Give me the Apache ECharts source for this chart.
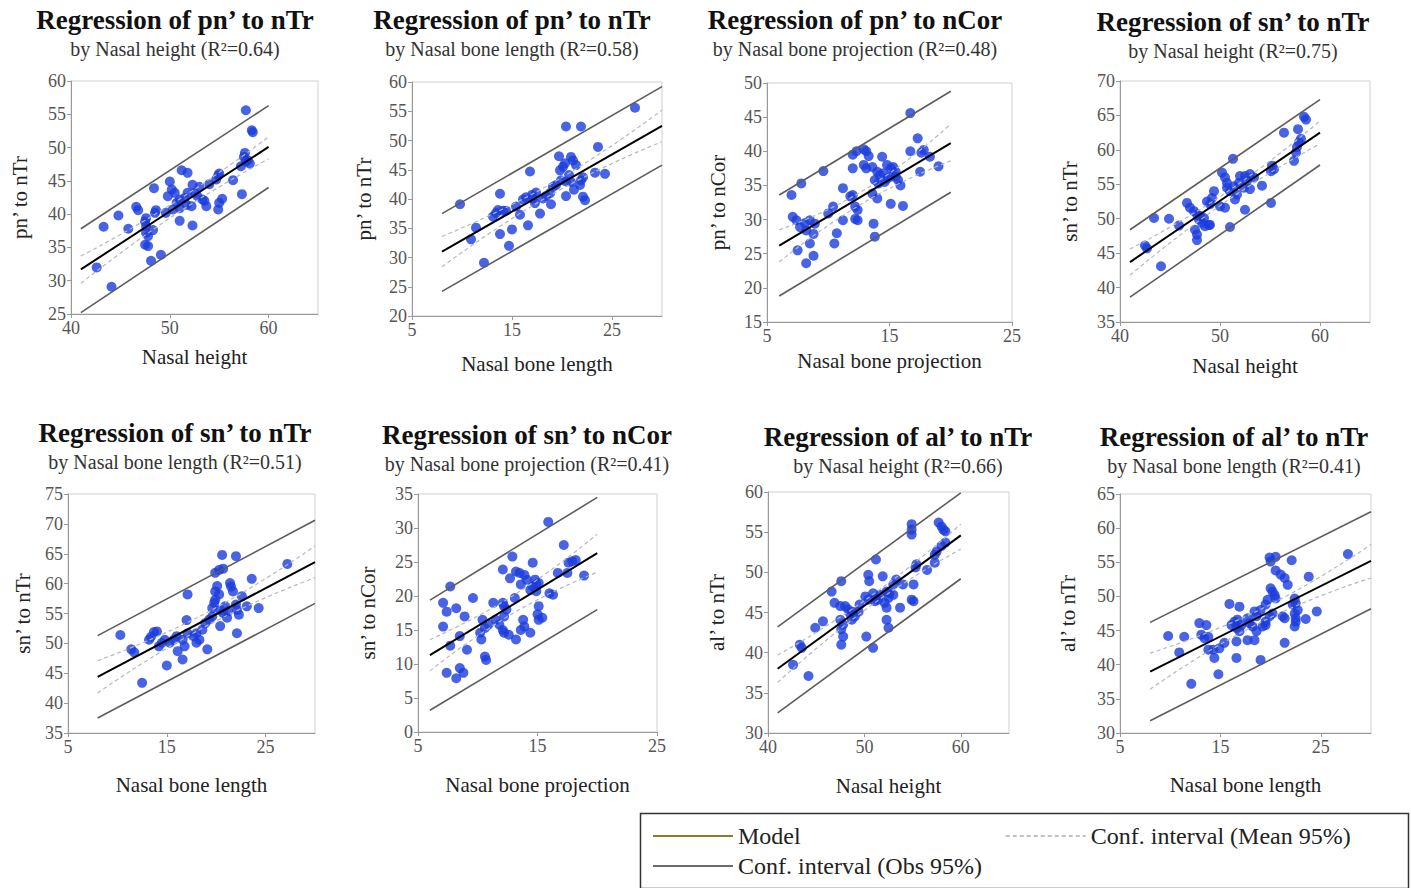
<!DOCTYPE html>
<html><head><meta charset="utf-8">
<script src="https://cdn.jsdelivr.net/npm/echarts@6/dist/echarts.min.js"></script>
<style>html,body{margin:0;padding:0;background:#fff}#c{width:1411px;height:888px}</style>
</head><body><div id="c"></div>
<script>
// ---------- text ----------
const titles = ["Regression of pn\u2019 to nTr","Regression of pn\u2019 to nTr","Regression of pn\u2019 to nCor","Regression of sn\u2019 to nTr",
                "Regression of sn\u2019 to nTr","Regression of sn\u2019 to nCor","Regression of al\u2019 to nTr","Regression of al\u2019 to nTr"];
const subtitles = ["by Nasal height (R\u00b2=0.64)","by Nasal bone length (R\u00b2=0.58)","by Nasal bone projection (R\u00b2=0.48)","by Nasal height (R\u00b2=0.75)",
                   "by Nasal bone length (R\u00b2=0.51)","by Nasal bone projection (R\u00b2=0.41)","by Nasal height (R\u00b2=0.66)","by Nasal bone length (R\u00b2=0.41)"];
const xNames = ["Nasal height","Nasal bone length","Nasal bone projection","Nasal height","Nasal bone length","Nasal bone projection","Nasal height","Nasal bone length"];
const yNames = ["pn\u2019 to nTr","pn\u2019 to nTr","pn\u2019 to nCor","sn\u2019 to nTr","sn\u2019 to nTr","sn\u2019 to nCor","al\u2019 to nTr","al\u2019 to nTr"];
const legendNames = ["Model","Conf. interval (Obs 95%)","Conf. interval (Mean 95%)"];

// ---------- axes ----------
const xMin = [40,5,5,40,5,5,40,5];
const xMax = [65,30,25,65,30,25,65,30];
const xTicks = [[40,50,60],[5,15,25],[5,15,25],[40,50,60],[5,15,25],[5,15,25],[40,50,60],[5,15,25]];
const yMin = [25,20,15,35,35,0,30,30];
const yMax = [60,60,50,70,75,35,60,65];
const yTicks = [[25,30,35,40,45,50,55,60],[20,25,30,35,40,45,50,55,60],[15,20,25,30,35,40,45,50],[35,40,45,50,55,60,65,70],
                [35,40,45,50,55,60,65,70,75],[0,5,10,15,20,25,30,35],[30,35,40,45,50,55,60],[30,35,40,45,50,55,60,65]];

// ---------- data: observations ----------
const p1Points = [[57.7,55.6],[58.3,52.6],[58.4,52.3],[57.6,49.2],[57.5,48.6],[57.7,47.9],[57.9,48.1],[57.2,47.2],[58.1,47.6],[56.4,45.1],[57.3,43.0],
[54.9,45.8],[55.0,46.1],[54.7,45.2],[55.3,42.3],[55.0,41.7],[54.9,40.7],[54.0,44.5],
[51.2,46.6],[51.8,46.2],[52.3,44.4],[53.0,44.1],[52.5,43.2],[52.8,42.7],[53.3,42.2],[51.8,43.2],[51.5,42.4],[51.0,42.2],[50.7,41.7],[50.5,43.2],[50.2,43.7],[50.0,44.9],[49.8,42.7],[49.6,40.2],[50.3,40.7],[51.0,40.9],[51.0,39.0],[52.3,38.3],[53.7,41.2],[51.7,41.4],[52.2,41.2],[53.5,42.0],
[48.4,43.9],[48.6,40.6],[48.5,40.2],[46.6,41.1],[46.8,40.6],[47.6,39.4],[47.5,38.9],[47.6,38.2],[47.6,37.2],[47.8,36.7],[47.5,35.4],[47.8,35.2],[48.3,37.6],[48.1,33.0],[49.1,33.9],[44.8,39.8],[43.3,38.1],[45.8,37.8],[42.6,32.0],[44.1,29.1]];
const p2Points = [[9.8,39.1],[10.9,33.1],[11.4,35.1],[12.2,29.1],[13.1,37.0],[13.4,37.6],[13.6,38.1],[14.1,38.0],[13.8,40.9],[13.8,34.0],[14.7,32.0],[15.0,34.8],[14.4,38.0],[15.4,38.7],[15.8,37.3],[16.1,39.9],[16.4,40.3],[16.6,35.5],[16.8,44.7],[17.0,40.7],[17.1,40.1],[17.4,41.1],[17.3,39.3],[17.8,37.5],[18.1,40.1],[18.4,40.5],[18.8,41.0],[18.9,39.1],[19.1,42.1],[19.4,42.4],[19.7,47.3],[19.8,44.9],[20.1,45.5],[20.3,46.1],[19.9,43.2],[20.4,43.0],[20.4,52.4],[20.4,40.5],[20.9,47.2],[21.1,46.6],[21.4,45.8],[21.2,41.6],[21.8,42.4],[21.9,43.2],[22.1,43.7],[21.9,52.4],[22.1,40.4],[22.3,39.8],[23.3,44.5],[23.6,48.9],[24.3,44.3],[20.7,44.1],[20.9,42.9],[27.3,55.6]];
const p3Points = [[16.7,45.6],[17.3,41.9],[16.7,40.0],[17.6,39.8],[17.8,40.2],[18.3,39.2],[19.0,37.8],[17.5,37.0],[14.4,39.2],[14.8,38.0],[15.1,37.5],[15.3,37.7],[15.5,37.0],[14.0,37.0],[14.2,36.5],[14.5,36.8],[14.8,36.0],[15.1,36.3],[15.5,36.3],[15.7,35.8],[13.8,35.8],[14.1,35.3],[14.6,35.5],[13.6,37.7],[15.9,35.0],[15.1,32.3],[16.1,32.0],[14.0,33.1],[13.6,33.8],[12.0,39.5],[12.3,40.0],[12.9,40.3],[13.1,40.0],[13.3,39.3],[12.0,37.5],[12.9,38.0],[13.1,37.5],[11.2,34.6],[11.8,33.4],[12.0,33.6],[12.2,31.9],[12.4,31.4],[12.2,30.1],[12.4,29.9],[11.2,29.9],[13.7,29.4],[13.8,27.5],[10.4,31.9],[10.0,30.9],[10.7,28.0],[10.5,26.5],[9.6,37.1],[7.8,35.3],[7.0,33.6],[7.1,30.4],[7.4,29.9],[7.7,28.9],[8.1,29.5],[8.5,29.9],[8.9,29.4],[8.2,28.4],[8.8,27.9],[7.5,25.5],[8.5,26.5],[8.8,24.7],[8.2,23.6]];
const p4Points = [[58.4,64.8],[58.6,64.4],[56.4,62.5],[57.8,63.0],[58.1,61.6],[57.9,61.1],[57.7,60.4],[57.6,59.6],[57.4,58.4],[55.2,57.7],[55.1,56.9],[55.4,57.2],[55.1,52.3],[51.3,58.7],[50.2,56.7],[50.5,56.0],[50.7,55.2],[52.0,56.2],[52.5,56.2],[53.0,56.5],[53.4,56.0],[54.2,54.8],[51.9,55.2],[52.4,54.5],[53.0,54.3],[52.7,55.5],[50.7,54.5],[51.0,54.0],[51.4,54.7],[49.4,54.0],[49.2,53.0],[51.7,53.5],[51.5,52.8],[50.0,51.8],[50.5,51.6],[52.5,51.3],[48.7,52.5],[49.0,52.1],[46.7,52.3],[47.0,51.6],[47.4,51.1],[47.7,50.6],[48.0,50.4],[47.9,49.9],[48.2,49.4],[48.5,48.9],[48.9,49.1],[48.4,50.1],[47.5,48.4],[47.7,47.7],[47.7,46.9],[49.0,49.1],[51.0,48.8],[45.9,49.0],[44.9,50.0],[43.4,50.1],[42.5,46.1],[42.7,45.7],[44.1,43.1]];
const p5Points = [[10.3,51.4],[11.4,49.0],[11.7,48.5],[12.5,43.4],[13.4,51.1],[13.7,51.9],[14.0,52.0],[13.2,50.6],[14.2,49.5],[14.5,50.1],[14.8,50.6],[15.0,46.3],[15.3,50.1],[15.7,50.6],[16.0,51.2],[16.1,48.7],[16.6,47.3],[17.0,53.9],[17.1,51.7],[17.1,58.2],[16.6,50.6],[16.8,49.5],[17.7,51.2],[18.0,51.7],[18.3,50.6],[18.6,52.3],[18.0,50.1],[19.1,49.0],[18.9,53.4],[19.3,54.0],[19.6,54.5],[19.6,55.9],[19.8,56.8],[19.9,57.3],[19.9,58.7],[20.3,58.2],[20.1,59.6],[19.9,61.8],[20.3,62.3],[20.6,64.8],[20.7,62.5],[20.4,55.6],[20.7,55.1],[20.9,56.2],[21.2,55.4],[21.1,54.3],[20.4,52.9],[21.4,60.1],[21.5,59.5],[21.7,58.7],[22.0,56.5],[22.1,55.6],[22.3,54.8],[22.0,64.6],[22.1,51.7],[22.6,57.9],[23.1,56.2],[23.6,60.8],[24.3,55.9],[27.2,63.3]];
const p6Points = [[15.9,30.9],[17.2,27.5],[17.6,24.9],[17.9,25.1],[18.2,25.3],[17.5,23.4],[18.9,23.0],[16.7,23.4],[16.0,20.4],[16.3,20.2],[14.6,24.9],[14.8,22.4],[14.9,21.7],[15.1,21.9],[14.4,20.9],[14.6,21.4],[14.9,20.7],[13.9,23.1],[14.1,22.4],[13.5,23.4],[13.2,23.6],[13.6,21.7],[12.9,25.8],[12.7,22.6],[13.1,19.7],[12.1,23.9],[12.1,19.0],[12.2,18.5],[12.4,18.0],[12.2,17.0],[11.3,19.0],[11.5,16.5],[11.8,15.8],[12.1,15.0],[12.2,14.6],[12.6,14.3],[13.2,13.6],[13.8,16.5],[13.9,15.5],[13.6,15.0],[14.4,14.6],[15.0,17.3],[15.1,16.5],[15.4,16.8],[15.1,18.5],[10.6,15.3],[10.9,15.8],[10.4,16.5],[10.2,14.6],[10.3,13.6],[9.6,19.7],[10.6,11.1],[10.7,10.6],[8.9,17.0],[9.1,12.1],[8.5,14.1],[7.7,21.4],[8.2,18.2],[7.4,17.7],[7.1,19.0],[7.1,15.5],[7.7,12.7],[7.4,8.7],[8.2,7.9],[8.5,9.4],[8.8,8.7]];
const p7Points = [[57.7,56.2],[58.0,55.7],[58.2,55.3],[58.4,55.1],[54.9,56.0],[54.9,55.3],[54.9,54.7],[58.4,53.7],[58.0,53.3],[57.5,52.6],[57.3,52.2],[57.3,51.2],[56.5,50.3],[55.4,51.0],[55.3,50.6],[51.2,51.6],[50.4,49.7],[50.5,48.9],[51.9,49.5],[53.3,49.1],[53.0,48.5],[54.0,48.5],[55.1,48.5],[54.9,46.6],[55.1,46.4],[53.7,45.6],[52.3,47.6],[52.6,47.4],[53.0,47.2],[52.5,46.8],[52.3,45.6],[52.1,46.2],[52.3,44.1],[52.5,43.1],[50.9,47.4],[51.2,46.8],[51.6,47.2],[51.1,46.4],[51.4,46.6],[50.1,47.0],[50.4,46.6],[50.2,42.0],[50.9,40.6],[49.5,46.0],[49.4,45.1],[49.0,44.5],[48.7,44.1],[48.3,45.4],[48.5,44.9],[48.8,45.1],[47.6,48.9],[46.6,47.6],[46.9,46.2],[47.5,45.8],[48.0,45.8],[47.5,44.1],[47.8,43.5],[47.6,42.9],[47.8,42.0],[47.6,41.0],[45.7,43.9],[44.9,43.1],[43.3,41.0],[43.5,40.6],[42.6,38.5],[44.2,37.1]];
const p8Points = [[27.7,56.2],[19.9,55.7],[20.5,55.8],[20.0,55.1],[22.1,55.3],[20.5,53.8],[21.0,53.2],[21.4,52.7],[21.7,51.7],[23.8,52.9],[20.0,51.2],[20.2,50.7],[20.4,50.2],[20.5,49.7],[19.7,49.5],[19.5,48.8],[22.4,49.7],[22.2,48.8],[22.5,49.0],[22.7,48.0],[22.4,47.5],[22.5,46.8],[21.2,47.1],[21.4,46.8],[22.4,45.6],[22.5,46.3],[23.5,46.7],[24.6,47.8],[21.4,43.2],[20.2,47.5],[19.9,47.1],[19.5,46.3],[19.2,45.6],[19.5,45.8],[19.0,48.0],[18.4,47.8],[18.6,47.1],[17.7,46.8],[17.9,46.1],[18.2,45.6],[18.6,44.9],[17.7,43.6],[18.4,43.6],[19.0,40.7],[15.9,48.9],[16.9,48.5],[16.1,45.8],[16.4,46.3],[16.7,46.6],[17.1,45.8],[16.6,45.4],[16.9,44.9],[16.6,43.4],[15.4,43.2],[14.9,42.4],[16.6,41.0],[14.3,42.2],[14.4,41.0],[14.8,38.6],[12.9,46.1],[13.6,45.8],[13.1,44.4],[13.4,43.9],[13.8,44.1],[13.8,42.2],[11.4,44.1],[9.8,44.2],[10.9,41.8],[12.1,37.2]];

// ---------- data: model line and confidence bands ----------
const p1Model=[[41,31.7],[60,50.1]], p1ObsHi=[[41,37.8],[60,56.3]], p1ObsLo=[[41,25.2],[60,44.0]], p1MeanHi=[[41,33.7],[50.5,41.8],[60,51.6]], p1MeanLo=[[41,29.6],[50.5,39.9],[60,48.3]];
const p2Model=[[8,31.0],[30,52.5]], p2ObsHi=[[8,37.5],[30,59.2]], p2ObsLo=[[8,24.2],[30,45.8]], p2MeanHi=[[8,33.6],[19,42.7],[30,55.2]], p2MeanLo=[[8,28.4],[19,40.8],[30,49.8]];
const p3Model=[[6,26.2],[20,41.2]], p3ObsHi=[[6,33.6],[20,48.8]], p3ObsLo=[[6,18.8],[20,34.0]], p3MeanHi=[[6,28.5],[13,34.4],[20,44.0]], p3MeanLo=[[6,23.8],[13,32.6],[20,38.6]];
const p4Model=[[41,43.7],[60,62.5]], p4ObsHi=[[41,48.4],[60,67.3]], p4ObsLo=[[41,38.6],[60,57.8]], p4MeanHi=[[41,45.6],[50.5,53.7],[60,64.2]], p4MeanLo=[[41,41.8],[50.5,52.4],[60,60.9]];
const p5Model=[[8,44.4],[30,63.6]], p5ObsHi=[[8,51.3],[30,70.6]], p5ObsLo=[[8,37.5],[30,56.7]], p5MeanHi=[[8,47.1],[19,55.1],[30,66.3]], p5MeanLo=[[8,41.7],[19,52.9],[30,61.0]];
const p6Model=[[6,11.3],[20,26.3]], p6ObsHi=[[6,19.4],[20,34.5]], p6ObsLo=[[6,3.2],[20,18.0]], p6MeanHi=[[6,13.6],[13,20.1],[20,29.1]], p6MeanLo=[[6,9.0],[13,17.5],[20,23.5]];
const p7Model=[[41,38.0],[60,54.6]], p7ObsHi=[[41,43.2],[60,59.9]], p7ObsLo=[[41,32.5],[60,49.2]], p7MeanHi=[[41,39.7],[50.5,46.9],[60,56.0]], p7MeanLo=[[41,36.3],[50.5,45.7],[60,52.9]];
const p8Model=[[8,39.0],[30,55.2]], p8ObsHi=[[8,46.2],[30,62.4]], p8ObsLo=[[8,31.8],[30,48.2]], p8MeanHi=[[8,41.7],[19,48.1],[30,57.6]], p8MeanLo=[[8,36.4],[19,46.2],[30,52.7]];

// ---------- layout (pixels) ----------
const grids = [
  {left:71, top:81, width:247, height:233},
  {left:412, top:82, width:250, height:234},
  {left:767, top:83, width:245, height:239},
  {left:1120, top:81, width:250, height:241},
  {left:68, top:494, width:247, height:239},
  {left:418, top:494, width:239, height:238},
  {left:768, top:492, width:241, height:241},
  {left:1120, top:494, width:251, height:239}
];
const titleCx = [175,512,855,1233,175,527,898,1234];
const titleTop = [5,5,5,7,418,420,422,422];
const xNameGap = [32,37,28,33,41,42,42,41];
const yNameGap = [41,38,39,40,35,40,41,42];

const panels = [
  [p1Points,p1Model,p1ObsHi,p1ObsLo,p1MeanHi,p1MeanLo],
  [p2Points,p2Model,p2ObsHi,p2ObsLo,p2MeanHi,p2MeanLo],
  [p3Points,p3Model,p3ObsHi,p3ObsLo,p3MeanHi,p3MeanLo],
  [p4Points,p4Model,p4ObsHi,p4ObsLo,p4MeanHi,p4MeanLo],
  [p5Points,p5Model,p5ObsHi,p5ObsLo,p5MeanHi,p5MeanLo],
  [p6Points,p6Model,p6ObsHi,p6ObsLo,p6MeanHi,p6MeanLo],
  [p7Points,p7Model,p7ObsHi,p7ObsLo,p7MeanHi,p7MeanLo],
  [p8Points,p8Model,p8ObsHi,p8ObsLo,p8MeanHi,p8MeanLo]
];

const FONT = "'Liberation Serif','Times New Roman',serif";
const AX = '#999';
const opt = {animation:false, backgroundColor:'#fff', title:[], grid:[], xAxis:[], yAxis:[], series:[], legend:[], graphic:[]};

for (let i=0;i<8;i++){
  opt.title.push({text:titles[i], subtext:subtitles[i], left:titleCx[i], top:titleTop[i], textAlign:'center', padding:0, itemGap:2,
    textStyle:{fontFamily:FONT, fontSize:27, fontWeight:'bold', color:'#111', lineHeight:30},
    subtextStyle:{fontFamily:FONT, fontSize:20, color:'#333', lineHeight:24}});
  opt.grid.push(Object.assign({show:true, borderColor:'#cfcfcf', borderWidth:1, backgroundColor:'#fff'}, grids[i]));
  opt.xAxis.push({type:'value', gridIndex:i, min:xMin[i], max:xMax[i], name:xNames[i], nameLocation:'middle', nameGap:xNameGap[i],
    nameTextStyle:{fontFamily:FONT, fontSize:21, color:'#222'},
    axisLine:{show:true, onZero:false, lineStyle:{color:AX, width:1}},
    axisTick:{show:true, customValues:xTicks[i], length:4, lineStyle:{color:AX}},
    axisLabel:{customValues:xTicks[i], fontFamily:FONT, fontSize:18, color:'#555', margin:5},
    splitLine:{show:false}});
  opt.yAxis.push({type:'value', gridIndex:i, min:yMin[i], max:yMax[i], name:yNames[i], nameLocation:'middle', nameGap:yNameGap[i],
    nameTextStyle:{fontFamily:FONT, fontSize:21, color:'#222'},
    axisLine:{show:true, onZero:false, lineStyle:{color:AX, width:1}},
    axisTick:{show:true, customValues:yTicks[i], length:4, lineStyle:{color:AX}},
    axisLabel:{customValues:yTicks[i], fontFamily:FONT, fontSize:18, color:'#555', margin:5},
    splitLine:{show:false}});
  const [pts, model, ohi, olo, mhi, mlo] = panels[i];
  opt.series.push({type:'scatter', name:'Observations', xAxisIndex:i, yAxisIndex:i, data:pts, symbolSize:10, itemStyle:{color:'#1a3cdc'}, z:2});
  [ohi, olo].forEach(d=>opt.series.push({type:'line', name:legendNames[1], xAxisIndex:i, yAxisIndex:i, data:d, symbol:'none', lineStyle:{color:'#5c5c5c', width:1.6}, z:3}));
  [mhi, mlo].forEach(d=>opt.series.push({type:'line', name:legendNames[2], xAxisIndex:i, yAxisIndex:i, data:d, symbol:'none', smooth:true, lineStyle:{color:'#b4b8c4', width:1.2, type:[4,3]}, z:3}));
  opt.series.push({type:'line', name:legendNames[0], xAxisIndex:i, yAxisIndex:i, data:model, symbol:'none', lineStyle:{color:'#000', width:2}, z:4});
}

const legBase = {padding:0, itemWidth:80, itemHeight:24, selectedMode:false, textStyle:{fontFamily:FONT, fontSize:24, color:'#222'}};
const hidden = {opacity:0, color:'rgba(0,0,0,0)', borderWidth:0};
opt.legend.push(Object.assign({left:652, top:824, data:[{name:legendNames[0], itemStyle:hidden, lineStyle:{color:'#8a7a32', width:2}}]}, legBase));
opt.legend.push(Object.assign({left:652, top:854, data:[{name:legendNames[1], itemStyle:hidden, lineStyle:{color:'#6a6a6a', width:2}}]}, legBase));
opt.legend.push(Object.assign({left:1005, top:824, data:[{name:legendNames[2], itemStyle:hidden, lineStyle:{color:'#a8acc0', width:1.5, type:[4,3]}}]}, legBase));
opt.graphic.push({type:'rect', left:638, top:811, shape:{width:768, height:75}, style:{fill:'none', stroke:'#333', lineWidth:1.5}, silent:true});

const chart = echarts.init(document.getElementById('c'), null, {renderer:'svg', width:1411, height:888});
chart.setOption(opt);
</script></body></html>
